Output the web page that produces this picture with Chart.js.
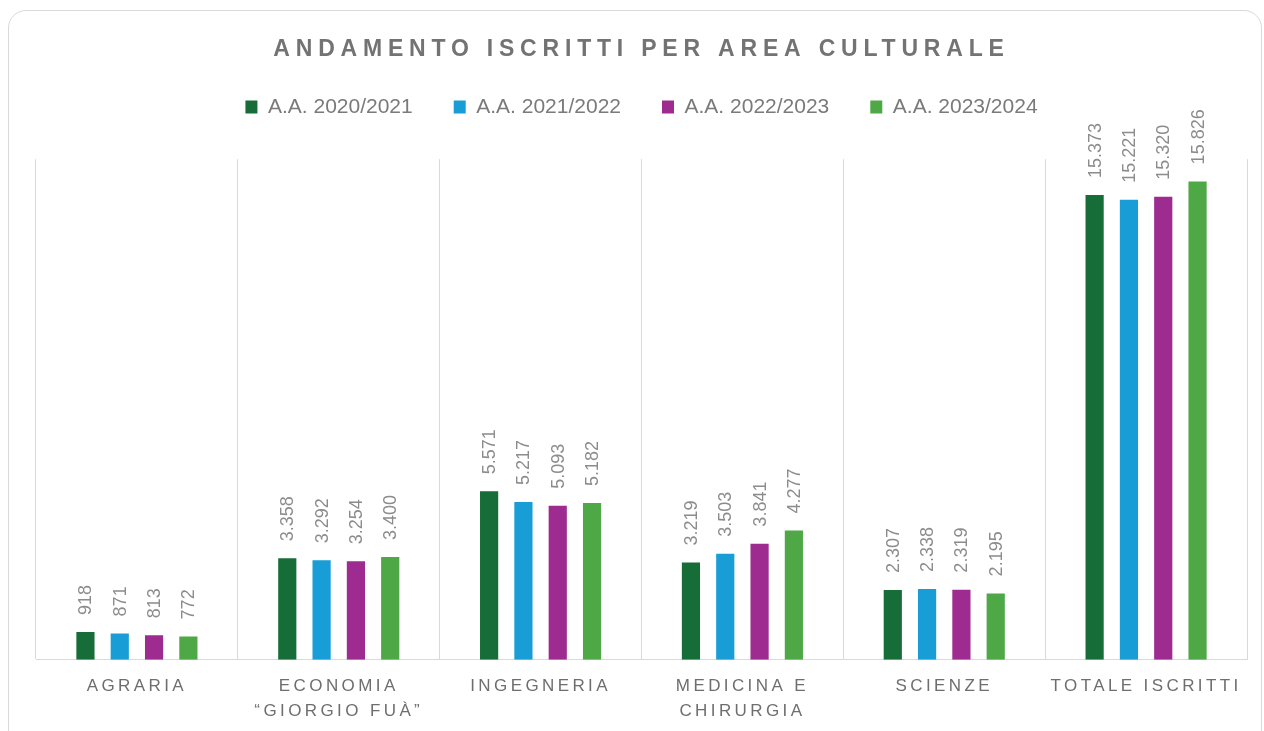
<!DOCTYPE html>
<html lang="it">
<head>
<meta charset="utf-8">
<title>Andamento iscritti per area culturale</title>
<script src="https://cdn.jsdelivr.net/npm/chart.js@4.4.1/dist/chart.umd.min.js"></script>
<style>
    html, body { margin: 0; padding: 0; background: #ffffff; }
    #wrap { position: relative; width: 1264px; height: 731px; overflow: hidden; }
    #card {
        position: absolute; left: 8px; top: 10px; width: 1254px; height: 760px;
        border: 1px solid #d9d9d9; border-radius: 18px; box-sizing: border-box;
    }
    #chart { position: absolute; left: 0; top: 0; }
</style>
</head>
<body>
<div id="wrap">
    <div id="card"></div>
    <canvas id="chart" width="1264" height="747"></canvas>
</div>
<script>
// Dati
const categories = [
    'AGRARIA',
    ['ECONOMIA', '“GIORGIO FUÀ”'],
    'INGEGNERIA',
    ['MEDICINA E', 'CHIRURGIA'],
    'SCIENZE',
    'TOTALE ISCRITTI'
];
const seriesNames = ['A.A. 2020/2021', 'A.A. 2021/2022', 'A.A. 2022/2023', 'A.A. 2023/2024'];
const aa2020 = [918, 3358, 5571, 3219, 2307, 15373];
const aa2021 = [871, 3292, 5217, 3503, 2338, 15221];
const aa2022 = [813, 3254, 5093, 3841, 2319, 15320];
const aa2023 = [772, 3400, 5182, 4277, 2195, 15826];
const seriesColors = ['#176d38', '#199dd6', '#9e2b8f', '#4ea846'];

function formatIt(v) {
    return String(v).replace(/\B(?=(\d{3})+(?!\d))/g, '.');
}

// etichette ruotate sopra le barre
const barLabels = {
    id: 'barLabels',
    afterDatasetsDraw(chart) {
        const ctx = chart.ctx;
        ctx.save();
        ctx.font = '18px "Liberation Sans", Arial, sans-serif';
        ctx.fillStyle = '#8c8c8c';
        ctx.textAlign = 'left';
        ctx.textBaseline = 'middle';
        chart.data.datasets.forEach((ds, i) => {
            const meta = chart.getDatasetMeta(i);
            meta.data.forEach((bar, j) => {
                ctx.save();
                ctx.translate(bar.x + 1, bar.y - 17);
                ctx.rotate(-Math.PI / 2);
                ctx.fillText(formatIt(ds.data[j]), 0, 0);
                ctx.restore();
            });
        });
        ctx.restore();
    }
};

// spaziatura lettere per titolo e assi, spazio sotto la legenda
const spacing = {
    id: 'spacing',
    afterInit(chart) {
        const legend = chart.legend;
        const fit = legend.fit;
        legend.fit = function() {
            fit.call(this);
            this.height = 103.6;
        };
        const title = chart.titleBlock;
        const drawTitle = title.draw;
        title.draw = function() {
            chart.ctx.save();
            chart.ctx.letterSpacing = '5.8px';
            drawTitle.call(this);
            chart.ctx.restore();
        };
    },
    beforeDraw(chart) {
        const x = chart.scales.x;
        if (!x._spaced) {
            const drawLabels = x.drawLabels;
            x.drawLabels = function(area) {
                chart.ctx.save();
                chart.ctx.letterSpacing = '3.4px';
                drawLabels.call(this, area);
                chart.ctx.restore();
            };
            x._spaced = true;
        }
    }
};

const datasets = [aa2020, aa2021, aa2022, aa2023].map((values, i) => ({
    label: seriesNames[i],
    data: values,
    backgroundColor: seriesColors[i],
    borderWidth: 0,
    categoryPercentage: 0.68,
    barPercentage: 0.53
}));

new Chart(document.getElementById('chart'), {
    type: 'bar',
    data: { labels: categories, datasets: datasets },
    plugins: [barLabels, spacing],
    options: {
        responsive: false,
        animation: false,
        layout: { padding: { left: 36, right: 17, top: 0, bottom: 9 } },
        scales: {
            x: {
                grid: { color: '#d9d9d9', lineWidth: 1, drawTicks: false, offset: true },
                border: { color: '#d9d9d9', width: 1 },
                ticks: {
                    autoSkip: false,
                    maxRotation: 0,
                    padding: 15,
                    color: '#6e6e6e',
                    font: { family: '"Liberation Sans", Arial, sans-serif', size: 17, lineHeight: 1.42 }
                }
            },
            y: {
                display: false,
                min: 0,
                max: 16560
            }
        },
        plugins: {
            title: {
                display: true,
                text: 'ANDAMENTO ISCRITTI PER AREA CULTURALE',
                color: '#737373',
                font: { family: '"Liberation Sans", Arial, sans-serif', size: 23, weight: 'bold', lineHeight: 1.2 },
                padding: { top: 36, bottom: -8 }
            },
            legend: {
                display: true,
                labels: {
                    boxWidth: 12,
                    boxHeight: 13,
                    padding: 41,
                    color: '#7a7a7a',
                    font: { family: '"Liberation Sans", Arial, sans-serif', size: 21 }
                }
            },
            tooltip: { enabled: false }
        }
    }
});
</script>
</body>
</html>
